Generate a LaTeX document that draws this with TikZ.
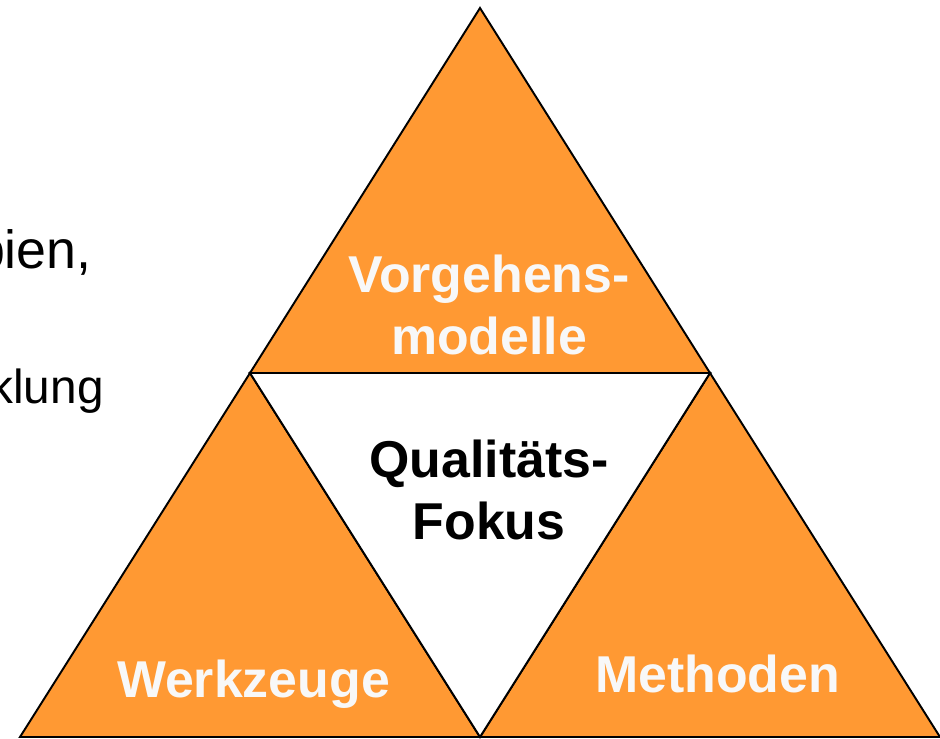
\documentclass[tikz,border=0pt]{standalone}
\usepackage{fontspec}
\setmainfont{Liberation Sans}
\usepackage{tikz}
\definecolor{triorange}{RGB}{255,153,51}
\definecolor{lblwhite}{RGB}{248,248,248}

\begin{document}
\begin{tikzpicture}
[%%%%%%%%%%%%%%%%%%%%%%%%%%%%%%
x=0.02cm,y=-0.02cm,
tri/.style={draw=black,line width=1.1pt,fill=triorange,line join=miter},
lbl/.style={font=\bfseries\fontsize{29.5}{35.2}\selectfont,text=lblwhite,align=center,inner sep=0pt},
focus/.style={lbl,text=black},
bullettext/.style={anchor=base east,inner sep=0pt},
]%%%%%%%%%%%%%%%%%%%%%%%%%%%%%%

\useasboundingbox (0,0) rectangle (940,738);

\coordinate (top) at (480,8);
\coordinate (midl) at (250,373);
\coordinate (midr) at (710,373);
\coordinate (botl) at (20,737);
\coordinate (botm) at (480,737);
\coordinate (botr) at (940,737);

% cut off text on the left
\node[bullettext,font=\fontsize{30.6}{36}\selectfont] (pien) at (92,268){pien,};
\node[bullettext,font=\fontsize{27.2}{33}\selectfont] (klung) at (104,403){klung};

% the four triangles
\draw[tri] (top) -- (midl) -- (midr) -- cycle;
\draw[tri] (midl) -- (botl) -- (botm) -- cycle;
\draw[tri] (midr) -- (botm) -- (botr) -- cycle;
\draw[tri,fill=white] (midl) -- (midr) -- (botm) -- cycle;

\node[lbl] (vorgehen) at (489,305){Vorgehens-\\modelle};
\node[focus] (fokus) at (489,490){Qualitäts-\\Fokus};
\node[lbl,anchor=base] (werkzeuge) at (253.5,697){Werkzeuge};
\node[lbl,anchor=base] (methoden) at (717.5,692){Methoden};
\end{tikzpicture}
\end{document}
